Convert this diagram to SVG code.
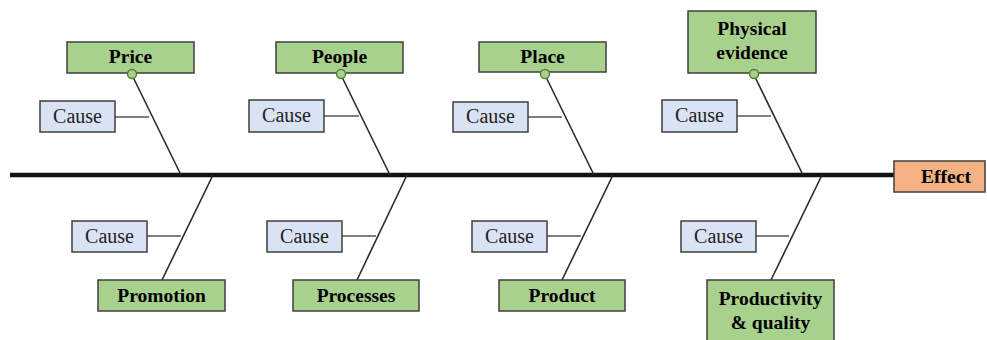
<svg xmlns="http://www.w3.org/2000/svg" width="987" height="340" viewBox="0 0 987 340" font-family="Liberation Serif, Times New Roman, serif">
<style>
.cat{fill:#a9d18e;stroke:#3f3f3f;stroke-width:1.5}
.cause{fill:#dae3f3;stroke:#3f3f3f;stroke-width:1.5}
.eff{fill:#f4b183;stroke:#3f3f3f;stroke-width:1.5}
.dot{fill:#a9d18e;stroke:#548235;stroke-width:1.5}
.b{font-weight:bold;font-size:19.5px;fill:#000;text-anchor:middle}
.c{font-size:20px;fill:#222;text-anchor:middle}
.bone{stroke:#2b2b2b;stroke-width:1.6;fill:none}
.sub{stroke:#555;stroke-width:1.6;fill:none}
</style>
<rect width="987" height="340" fill="#fff"/>
<g id="connectors">
<line x1="10" y1="175" x2="894" y2="175" stroke="#111" stroke-width="4.5"/>
<line class="bone" x1="132" y1="75" x2="181" y2="175"/>
<line class="bone" x1="341" y1="75" x2="390" y2="175"/>
<line class="bone" x1="545" y1="75" x2="594" y2="175"/>
<line class="bone" x1="754" y1="75" x2="803" y2="175"/>
<line class="bone" x1="213" y1="175" x2="162" y2="280"/>
<line class="bone" x1="407" y1="175" x2="357" y2="280"/>
<line class="bone" x1="613" y1="175" x2="562" y2="280"/>
<line class="bone" x1="822" y1="175" x2="771" y2="280"/>
<line class="sub" x1="115" y1="117" x2="149" y2="117"/>
<line class="sub" x1="324" y1="116" x2="359" y2="116"/>
<line class="sub" x1="528" y1="117" x2="562" y2="117"/>
<line class="sub" x1="737" y1="116" x2="771" y2="116"/>
<line class="sub" x1="147" y1="236" x2="181" y2="236"/>
<line class="sub" x1="342" y1="236" x2="376" y2="236"/>
<line class="sub" x1="547" y1="236" x2="581" y2="236"/>
<line class="sub" x1="756" y1="236" x2="789" y2="236"/>
</g>
<g id="price"><rect class="cat" x="67" y="42" width="127" height="31"/><text class="b" x="130.5" y="63">Price</text><circle class="dot" cx="132" cy="74" r="4.5"/></g>
<g id="people"><rect class="cat" x="276" y="42" width="127" height="31"/><text class="b" x="339.5" y="63">People</text><circle class="dot" cx="341" cy="74" r="4.5"/></g>
<g id="place"><rect class="cat" x="479" y="42" width="127" height="30"/><text class="b" x="542.5" y="63">Place</text><circle class="dot" cx="545" cy="74" r="4.5"/></g>
<g id="physical"><rect class="cat" x="688" y="11" width="128" height="62"/><text class="b" x="752" y="35">Physical</text><text class="b" x="752" y="59">evidence</text><circle class="dot" cx="754" cy="74" r="4.5"/></g>
<g id="promotion"><rect class="cat" x="98" y="280" width="127" height="31"/><text class="b" x="161.5" y="302">Promotion</text></g>
<g id="processes"><rect class="cat" x="293" y="280" width="126" height="31"/><text class="b" x="356" y="302">Processes</text></g>
<g id="product"><rect class="cat" x="499" y="280" width="126" height="31"/><text class="b" x="562" y="302">Product</text></g>
<g id="productivity"><rect class="cat" x="707" y="280" width="127" height="70"/><text class="b" x="770.5" y="305">Productivity</text><text class="b" x="770.5" y="329">&amp; quality</text></g>
<g id="effect"><rect class="eff" x="894" y="161" width="91" height="31"/><text class="b" x="946" y="183">Effect</text></g>
<g id="cause1"><rect class="cause" x="40" y="101" width="75" height="31"/><text class="c" x="77.5" y="123">Cause</text></g>
<g id="cause2"><rect class="cause" x="249" y="100" width="75" height="32"/><text class="c" x="286.5" y="122">Cause</text></g>
<g id="cause3"><rect class="cause" x="453" y="102" width="75" height="30"/><text class="c" x="490.5" y="123">Cause</text></g>
<g id="cause4"><rect class="cause" x="662" y="100" width="75" height="32"/><text class="c" x="699.5" y="122">Cause</text></g>
<g id="cause5"><rect class="cause" x="72" y="221" width="75" height="31"/><text class="c" x="109.5" y="243">Cause</text></g>
<g id="cause6"><rect class="cause" x="267" y="221" width="75" height="31"/><text class="c" x="304.5" y="243">Cause</text></g>
<g id="cause7"><rect class="cause" x="472" y="221" width="75" height="31"/><text class="c" x="509.5" y="243">Cause</text></g>
<g id="cause8"><rect class="cause" x="681" y="221" width="75" height="31"/><text class="c" x="718.5" y="243">Cause</text></g>
</svg>
